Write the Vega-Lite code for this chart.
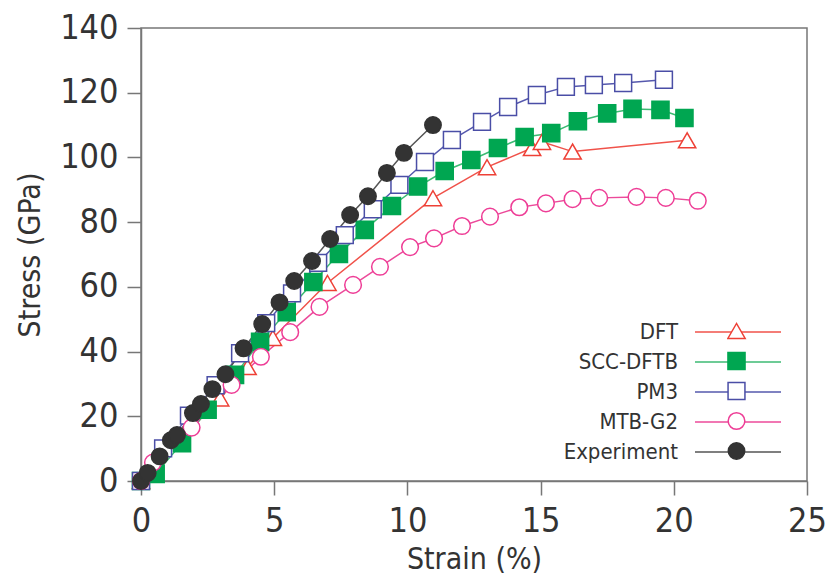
{
  "$schema": "https://vega.github.io/schema/vega-lite/v6.json",
  "autosize": "none",
  "width": 666,
  "height": 453,
  "padding": {"left": 141, "top": 28, "right": 20, "bottom": 107},
  "background": "white",
  "config": {
    "view": {"stroke": "#777777", "strokeWidth": 1.5},
    "font": "DejaVu Sans Condensed",
    "axis": {
      "grid": false,
      "labelFlush": false,
      "domainColor": "#777777",
      "domainWidth": 1.5,
      "tickColor": "#777777",
      "tickWidth": 1.5,
      "tickSize": 14,
      "labelFont": "DejaVu Sans Condensed",
      "labelFontSize": 34,
      "labelColor": "#333333",
      "titleFont": "DejaVu Sans Condensed",
      "titleFontSize": 30,
      "titleFontWeight": "normal",
      "titleColor": "#333333"
    }
  },
  "data": {
    "values": [
      {"series": "DFT", "strain": 0, "stress": 0},
      {"series": "DFT", "strain": 2.97, "stress": 25.5},
      {"series": "DFT", "strain": 4.0, "stress": 35.2},
      {"series": "DFT", "strain": 4.95, "stress": 44.2},
      {"series": "DFT", "strain": 7.0, "stress": 61.2},
      {"series": "DFT", "strain": 10.96, "stress": 87.4},
      {"series": "DFT", "strain": 12.99, "stress": 97},
      {"series": "DFT", "strain": 14.68, "stress": 102.9},
      {"series": "DFT", "strain": 15.05, "stress": 104.8},
      {"series": "DFT", "strain": 16.2, "stress": 101.8},
      {"series": "DFT", "strain": 20.5, "stress": 105.3},

      {"series": "SCC-DFTB", "strain": 0, "stress": 0},
      {"series": "SCC-DFTB", "strain": 0.55, "stress": 2.2},
      {"series": "SCC-DFTB", "strain": 1.54, "stress": 11.7},
      {"series": "SCC-DFTB", "strain": 2.5, "stress": 22},
      {"series": "SCC-DFTB", "strain": 3.53, "stress": 32.8},
      {"series": "SCC-DFTB", "strain": 4.47, "stress": 43},
      {"series": "SCC-DFTB", "strain": 5.47, "stress": 52.2},
      {"series": "SCC-DFTB", "strain": 6.47, "stress": 61.5},
      {"series": "SCC-DFTB", "strain": 7.43, "stress": 70.2},
      {"series": "SCC-DFTB", "strain": 8.4, "stress": 77.6},
      {"series": "SCC-DFTB", "strain": 9.42, "stress": 85},
      {"series": "SCC-DFTB", "strain": 10.4, "stress": 91},
      {"series": "SCC-DFTB", "strain": 11.4, "stress": 95.8},
      {"series": "SCC-DFTB", "strain": 12.4, "stress": 99.2},
      {"series": "SCC-DFTB", "strain": 13.4, "stress": 102.9},
      {"series": "SCC-DFTB", "strain": 14.4, "stress": 106.3},
      {"series": "SCC-DFTB", "strain": 15.4, "stress": 107.5},
      {"series": "SCC-DFTB", "strain": 16.4, "stress": 111.2},
      {"series": "SCC-DFTB", "strain": 17.5, "stress": 113.6},
      {"series": "SCC-DFTB", "strain": 18.45, "stress": 115},
      {"series": "SCC-DFTB", "strain": 19.5, "stress": 114.7},
      {"series": "SCC-DFTB", "strain": 20.4, "stress": 112.2},

      {"series": "PM3", "strain": 0, "stress": 0},
      {"series": "PM3", "strain": 0.83, "stress": 10.1},
      {"series": "PM3", "strain": 1.8, "stress": 20.2},
      {"series": "PM3", "strain": 2.8, "stress": 29.6},
      {"series": "PM3", "strain": 3.72, "stress": 39.5},
      {"series": "PM3", "strain": 4.7, "stress": 48.8},
      {"series": "PM3", "strain": 5.67, "stress": 58},
      {"series": "PM3", "strain": 6.65, "stress": 67.4},
      {"series": "PM3", "strain": 7.65, "stress": 76},
      {"series": "PM3", "strain": 8.7, "stress": 84},
      {"series": "PM3", "strain": 9.7, "stress": 91.5},
      {"series": "PM3", "strain": 10.66, "stress": 98.6},
      {"series": "PM3", "strain": 11.67, "stress": 105.4},
      {"series": "PM3", "strain": 12.8, "stress": 111},
      {"series": "PM3", "strain": 13.78, "stress": 115.6},
      {"series": "PM3", "strain": 14.86, "stress": 119.3},
      {"series": "PM3", "strain": 15.95, "stress": 121.8},
      {"series": "PM3", "strain": 17.0, "stress": 122.4},
      {"series": "PM3", "strain": 18.1, "stress": 123},
      {"series": "PM3", "strain": 19.63, "stress": 124},

      {"series": "MTB-G2", "strain": 0, "stress": 0},
      {"series": "MTB-G2", "strain": 0.45, "stress": 5.7},
      {"series": "MTB-G2", "strain": 1.9, "stress": 16.5},
      {"series": "MTB-G2", "strain": 3.4, "stress": 29.7},
      {"series": "MTB-G2", "strain": 4.5, "stress": 38.4},
      {"series": "MTB-G2", "strain": 5.6, "stress": 46},
      {"series": "MTB-G2", "strain": 6.7, "stress": 53.8},
      {"series": "MTB-G2", "strain": 7.96, "stress": 60.6},
      {"series": "MTB-G2", "strain": 8.97, "stress": 66.2},
      {"series": "MTB-G2", "strain": 10.1, "stress": 72.3},
      {"series": "MTB-G2", "strain": 11.0, "stress": 75},
      {"series": "MTB-G2", "strain": 12.05, "stress": 78.8},
      {"series": "MTB-G2", "strain": 13.1, "stress": 81.7},
      {"series": "MTB-G2", "strain": 14.2, "stress": 84.6},
      {"series": "MTB-G2", "strain": 15.2, "stress": 85.8},
      {"series": "MTB-G2", "strain": 16.2, "stress": 87.1},
      {"series": "MTB-G2", "strain": 17.2, "stress": 87.5},
      {"series": "MTB-G2", "strain": 18.6, "stress": 87.8},
      {"series": "MTB-G2", "strain": 19.7, "stress": 87.5},
      {"series": "MTB-G2", "strain": 20.9, "stress": 86.6},

      {"series": "Experiment", "strain": 0, "stress": 0},
      {"series": "Experiment", "strain": 0.25, "stress": 2.5},
      {"series": "Experiment", "strain": 0.7, "stress": 7.6},
      {"series": "Experiment", "strain": 1.12, "stress": 12.6},
      {"series": "Experiment", "strain": 1.35, "stress": 14.2},
      {"series": "Experiment", "strain": 1.95, "stress": 21},
      {"series": "Experiment", "strain": 2.25, "stress": 23.8},
      {"series": "Experiment", "strain": 2.68, "stress": 28.4},
      {"series": "Experiment", "strain": 3.17, "stress": 33},
      {"series": "Experiment", "strain": 3.85, "stress": 41},
      {"series": "Experiment", "strain": 4.55, "stress": 48.5},
      {"series": "Experiment", "strain": 5.2, "stress": 55.2},
      {"series": "Experiment", "strain": 5.75, "stress": 61.8},
      {"series": "Experiment", "strain": 6.42, "stress": 68},
      {"series": "Experiment", "strain": 7.1, "stress": 74.8},
      {"series": "Experiment", "strain": 7.85, "stress": 82.2},
      {"series": "Experiment", "strain": 8.52, "stress": 88},
      {"series": "Experiment", "strain": 9.23, "stress": 95.2},
      {"series": "Experiment", "strain": 9.87, "stress": 101.4},
      {"series": "Experiment", "strain": 10.96, "stress": 110}
    ]
  },
  "encoding": {
    "x": {
      "field": "strain", "type": "quantitative",
      "scale": {"domain": [0, 25], "nice": false, "zero": false},
      "axis": {"values": [0, 5, 10, 15, 20, 25], "title": "Strain (%)", "labelPadding": 9, "titlePadding": 6}
    },
    "y": {
      "field": "stress", "type": "quantitative",
      "scale": {"domain": [0, 140], "nice": false},
      "axis": {"values": [0, 20, 40, 60, 80, 100, 120, 140], "title": "Stress (GPa)", "labelPadding": 9, "titlePadding": 14}
    }
  },
  "layer": [
    {
      "mark": {"type": "line", "strokeWidth": 1.5, "clip": true},
      "encoding": {
        "color": {
          "field": "series", "type": "nominal",
          "scale": {"domain": ["DFT", "SCC-DFTB", "PM3", "MTB-G2", "Experiment", "unused"], "range": ["#f0524a", "#3dba73", "#5558ad", "#ec4a9a", "#555555", "#ffffff"]},
          "legend": {
            "values": ["DFT", "SCC-DFTB", "PM3", "MTB-G2", "Experiment"],
            "title": null,
            "orient": "none",
            "legendX": 586,
            "legendY": 293,
            "symbolType": "M-10,0H10",
            "symbolSize": 74,
            "symbolStrokeWidth": 1.5,
            "rowPadding": 8,
            "labelAlign": "right",
            "labelOffset": -71,
            "labelFont": "DejaVu Sans Condensed",
            "labelFontSize": 22,
            "labelColor": "#333333",
            "labelLimit": 0
          }
        }
      }
    },
    {
      "mark": {"type": "point", "strokeWidth": 1.5, "opacity": 1, "filled": false},
      "encoding": {
        "stroke": {
          "field": "series", "type": "nominal",
          "scale": {"domain": ["DFT", "SCC-DFTB", "PM3", "MTB-G2", "Experiment"], "range": ["#ee4036", "#00a651", "#4a4ea6", "#ee3d96", "#333333"]},
          "legend": {
            "title": null,
            "orient": "none",
            "legendX": 586,
            "legendY": 288,
            "clipHeight": 30,
            "rowPadding": 0,
            "labelOpacity": 0,
            "labelFontSize": 10
          }
        },
        "fill": {
          "field": "series", "type": "nominal",
          "scale": {"domain": ["DFT", "SCC-DFTB", "PM3", "MTB-G2", "Experiment"], "range": ["#ffffff", "#00a651", "#ffffff", "#ffffff", "#333333"]}
        },
        "shape": {
          "field": "series", "type": "nominal",
          "scale": {"domain": ["DFT", "SCC-DFTB", "PM3", "MTB-G2", "Experiment"], "range": ["triangle-up", "square", "square", "circle", "circle"]}
        },
        "size": {
          "field": "series", "type": "nominal",
          "scale": {"domain": ["DFT", "SCC-DFTB", "PM3", "MTB-G2", "Experiment"], "range": [300, 270, 290, 340, 320]}
        }
      }
    }
  ]
}
